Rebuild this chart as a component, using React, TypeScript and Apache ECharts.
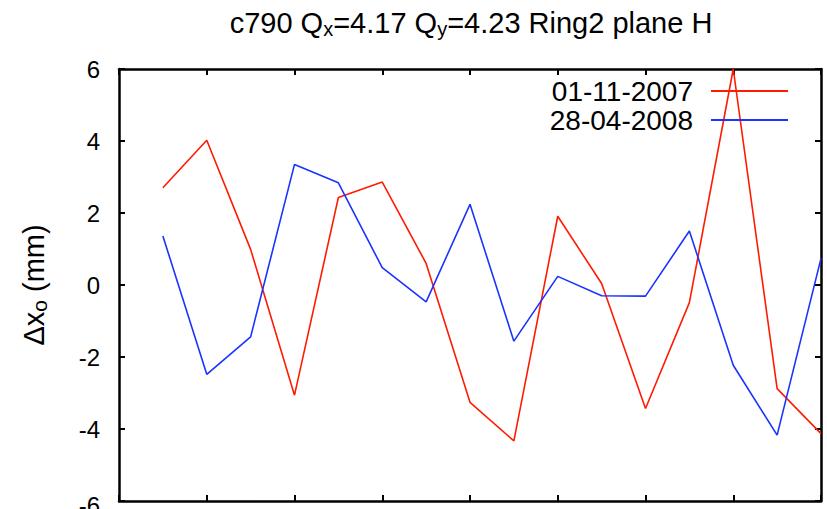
import React, { useEffect, useRef } from "react";
import * as echarts from "echarts";

const xIndex = [1, 2, 3, 4, 5, 6, 7, 8, 9, 10, 11, 12, 13, 14, 15, 16];
const red2007 = [2.70, 4.02, 0.99, -3.06, 2.43, 2.86, 0.60, -3.26, -4.33, 1.91, 0.04, -3.43, -0.49, 6.0, -2.88, -4.13];
const blue2008 = [1.36, -2.48, -1.44, 3.35, 2.84, 0.48, -0.47, 2.24, -1.56, 0.24, -0.30, -0.31, 1.50, -2.23, -4.17, 0.74];
const seriesNames = ["01-11-2007", "28-04-2008"];
const yTicks = [-6, -4, -2, 0, 2, 4, 6];

const FONT = "'Liberation Sans', Arial, Helvetica, sans-serif";

export default function App() {
  const ref = useRef<HTMLDivElement>(null);
  useEffect(() => {
    document.body.style.margin = "0";
    document.body.style.overflow = "hidden";
    document.documentElement.style.overflow = "hidden";
    const chart = echarts.init(ref.current!, null, { renderer: "svg" });
    const pair = (vals: number[]) => xIndex.map((x, i) => [x, vals[i]]);
    const axisCommon = {
      min: 0,
      axisLine: { show: true, onZero: false, lineStyle: { color: "#000", width: 2.5 } },
      axisTick: { show: true, inside: true, length: 6, lineStyle: { color: "#000", width: 2 } },
      splitLine: { show: false },
    };
    chart.setOption({
      animation: false,
      backgroundColor: "#fff",
      textStyle: { fontFamily: FONT },
      title: {
        text: "{n|c790 Q}{s|x}{n|=4.17 Q}{s|y}{n|=4.23 Ring2 plane H}",
        left: 466,
        top: 2,
        textAlign: "center",
        textStyle: {
          fontWeight: "normal",
          rich: {
            n: { fontSize: 29, fontWeight: "normal", fontFamily: FONT, color: "#000", lineHeight: 32, verticalAlign: "middle" },
            s: { fontSize: 20, fontWeight: "normal", fontFamily: FONT, color: "#000", lineHeight: 32, verticalAlign: "bottom" },
          },
        },
      },
      legend: {
        orient: "vertical",
        right: 39,
        top: 77,
        padding: 0,
        align: "right",
        itemWidth: 77,
        itemHeight: 14,
        itemGap: 1,
        icon: "path://M0,6 L77,6 L77,8 L0,8 Z",
        textStyle: { fontSize: 28, lineHeight: 28, color: "#000", fontFamily: FONT, padding: [0, 13, 0, 0] },
        data: seriesNames,
      },
      grid: { left: 119, top: 69, width: 702, height: 432, containLabel: false, outerBoundsMode: "none" },
      xAxis: [
        { ...axisCommon, type: "value", max: 16, interval: 2, position: "bottom", axisLabel: { show: false } },
        { ...axisCommon, type: "value", max: 16, interval: 2, position: "top", axisLabel: { show: false } },
      ],
      yAxis: [
        {
          ...axisCommon,
          type: "value",
          min: yTicks[0],
          max: yTicks[yTicks.length - 1],
          interval: 2,
          position: "left",
          axisLabel: {
            show: true,
            fontSize: 24,
            color: "#000",
            margin: 19,
            fontFamily: FONT,
            formatter: (v: number) => (v === yTicks[0] ? "{low|" + v + "}" : String(v)),
            rich: { low: { fontSize: 24, color: "#000", fontFamily: FONT, padding: [8, 0, 0, 0] } },
          },
          name: "{n|Δx}{s|o}{n| (mm)}",
          nameLocation: "middle",
          nameRotate: 90,
          nameGap: 69,
          nameTextStyle: {
            rich: {
              n: { fontSize: 29, fontFamily: FONT, color: "#000", lineHeight: 32, verticalAlign: "middle" },
              s: { fontSize: 21, fontFamily: FONT, color: "#000", lineHeight: 32, verticalAlign: "bottom" },
            },
          },
        },
        {
          ...axisCommon,
          type: "value",
          min: yTicks[0],
          max: yTicks[yTicks.length - 1],
          interval: 2,
          position: "right",
          axisLabel: { show: false },
        },
      ],
      series: [
        {
          name: seriesNames[0],
          type: "line",
          data: pair(red2007),
          showSymbol: false,
          symbol: "none",
          lineStyle: { color: "#ff1a00", width: 1.6 },
          itemStyle: { color: "#ff1a00" },
          clip: true,
        },
        {
          name: seriesNames[1],
          type: "line",
          data: pair(blue2008),
          showSymbol: false,
          symbol: "none",
          lineStyle: { color: "#1a33ff", width: 1.6 },
          itemStyle: { color: "#1a33ff" },
          clip: true,
        },
      ],
    });
    return () => chart.dispose();
  }, []);
  return (
    <div
      ref={ref}
      style={{ position: "fixed", left: 0, top: 0, width: 827, height: 509, overflow: "hidden" }}
    />
  );
}
